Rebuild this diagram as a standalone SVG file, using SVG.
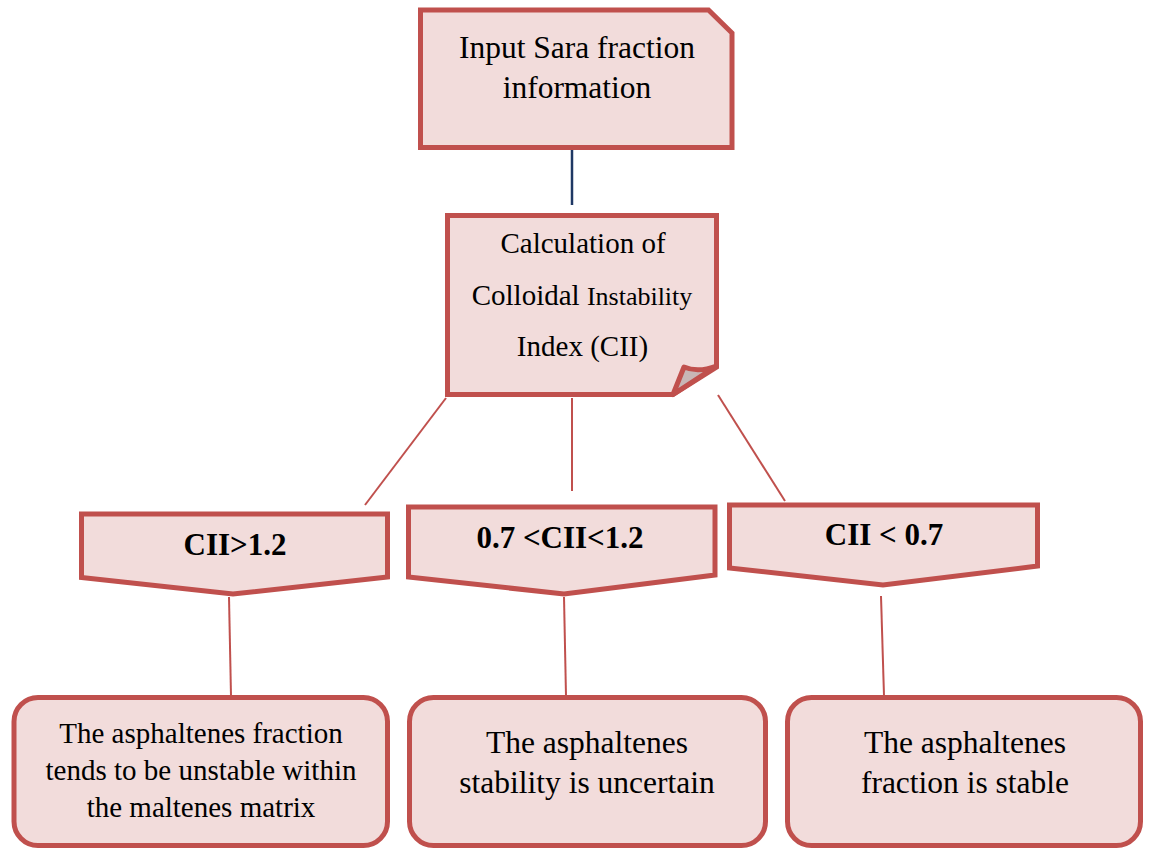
<svg xmlns="http://www.w3.org/2000/svg" width="1149" height="850" viewBox="0 0 1149 850">
  <style>
    .shape { fill: #f2dcdb; stroke: #c0504d; stroke-width: 5; stroke-linejoin: miter; }
    .fold { fill: #c8b6b6; stroke: #c0504d; stroke-width: 5; stroke-linejoin: round; }
    .txt { font-family: "Liberation Serif", "Times New Roman", serif; fill: #000; text-anchor: middle; }
    .bold { font-weight: bold; font-size: 31px; }
    .link { stroke: #c0504d; stroke-width: 2; fill: none; }
    .link-top { stroke: #1f3864; stroke-width: 2.5; fill: none; }
  </style>
  <rect width="1149" height="850" fill="#ffffff"/>

  <!-- connectors -->
  <g id="connectors">
    <line class="link-top" x1="572" y1="150" x2="572" y2="205"/>
    <line class="link" x1="446" y1="398" x2="365" y2="505"/>
    <line class="link" x1="572" y1="398" x2="572" y2="491"/>
    <line class="link" x1="718" y1="395" x2="785" y2="501"/>
    <line class="link" x1="229" y1="597" x2="231" y2="696"/>
    <line class="link" x1="564" y1="597" x2="566" y2="696"/>
    <line class="link" x1="881" y1="596" x2="884" y2="696"/>
  </g>

  <!-- input -->
  <g id="input">
    <path class="shape" d="M420.5,10 H708.5 L732,33 V147.5 H420.5 Z"/>
    <text class="txt" x="577" y="58" font-size="31.5">Input Sara fraction</text>
    <text class="txt" x="577" y="98" font-size="31.5">information</text>
  </g>

  <!-- CII calculation -->
  <g id="calc">
    <path class="shape" d="M447.5,215.5 H716.5 V367 L673,394.5 H447.5 Z"/>
    <path class="fold" d="M673,394.5 L684,367 Q698,373 716.5,366 Z"/>
    <text class="txt" x="583" y="253" font-size="29">Calculation of</text>
    <text class="txt" x="582" y="305" font-size="29">Colloidal <tspan font-size="26">Instability</tspan></text>
    <text class="txt" x="582.5" y="356" font-size="29">Index (CII)</text>
  </g>

  <!-- condition boxes -->
  <g id="cond-high">
    <path class="shape" d="M81.5,514 H387.5 V577 L233,594 L81.5,577.5 Z"/>
    <text class="txt bold" x="235" y="555">CII&gt;1.2</text>
  </g>
  <g id="cond-mid">
    <path class="shape" d="M408.5,507 H715 V575 L564,594 L408.5,577 Z"/>
    <text class="txt bold" x="560" y="548">0.7 &lt;CII&lt;1.2</text>
  </g>
  <g id="cond-low">
    <path class="shape" d="M729.5,505 H1037.5 V566 L883,585 L729.5,568 Z"/>
    <text class="txt bold" x="884" y="545">CII &lt; 0.7</text>
  </g>

  <!-- outcomes -->
  <g id="out-unstable">
    <rect class="shape" x="14" y="697.5" width="373.5" height="148" rx="24" ry="24"/>
    <text class="txt" x="201" y="743" font-size="29">The asphaltenes fraction</text>
    <text class="txt" x="201" y="780" font-size="29">tends to be unstable within</text>
    <text class="txt" x="201" y="817" font-size="29">the maltenes matrix</text>
  </g>
  <g id="out-uncertain">
    <rect class="shape" x="409.5" y="697.5" width="356" height="148" rx="24" ry="24"/>
    <text class="txt" x="587" y="753" font-size="31.5">The asphaltenes</text>
    <text class="txt" x="587" y="793" font-size="31.5">stability is uncertain</text>
  </g>
  <g id="out-stable">
    <rect class="shape" x="787.5" y="697.5" width="353" height="148" rx="24" ry="24"/>
    <text class="txt" x="965" y="753" font-size="31.5">The asphaltenes</text>
    <text class="txt" x="965" y="793" font-size="31.5">fraction is stable</text>
  </g>
</svg>
